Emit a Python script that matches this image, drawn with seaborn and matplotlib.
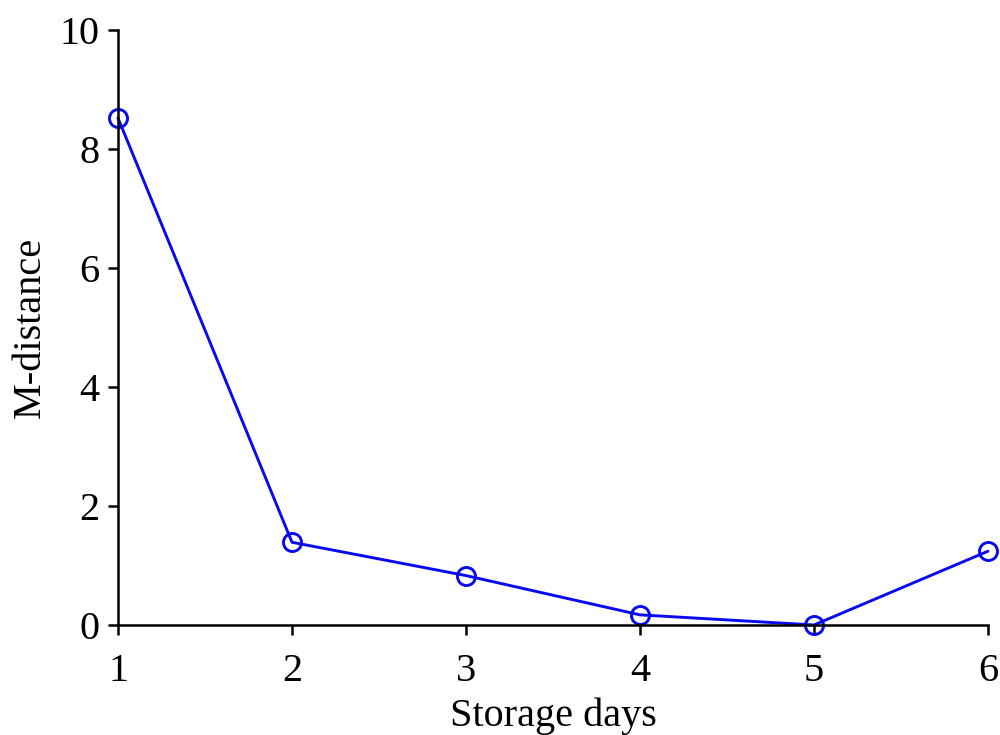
import numpy as np
import pandas as pd
import matplotlib
matplotlib.use("Agg")
import matplotlib.pyplot as plt
import seaborn as sns

days = [1, 2, 3, 4, 5, 6]
m_distance = [8.52, 1.39, 0.83, 0.17, 0.0, 1.24]
yticks = [0, 2, 4, 6, 8, 10]

df = pd.DataFrame({"day": days, "dist": m_distance})

sns.set_style("ticks")
plt.rcParams["font.family"] = ["Liberation Serif", "DejaVu Serif"]
plt.rcParams["text.color"] = "black"
plt.rcParams["axes.labelcolor"] = "black"
plt.rcParams["xtick.color"] = "black"
plt.rcParams["ytick.color"] = "black"

fig = plt.figure(figsize=(10, 7.35), dpi=100)
ax = fig.add_axes([0.118, 0.1497, 0.870, 0.8095])

sns.lineplot(data=df, x="day", y="dist", ax=ax, color="#0a0af0", linewidth=2.1,
             marker="o", markersize=13, markerfacecolor="none",
             markeredgecolor="#0a0af0", markeredgewidth=2.1, clip_on=False)

ax.set_xlim(1, 6)
ax.set_ylim(0, 10)
ax.set_xticks(days)
ax.set_yticks(yticks)
ax.tick_params(labelsize=29, width=1.8, length=7.5, colors="black")
ax.tick_params(axis="y", pad=6)
ax.tick_params(axis="x", pad=12.4)
ax.set_xlabel("Storage days", fontsize=29, labelpad=5.8)
ax.set_ylabel("M-distance", fontsize=29, labelpad=7.5)
for s in ["left", "bottom"]:
    ax.spines[s].set_linewidth(1.8)
    ax.spines[s].set_color("black")
sns.despine(ax=ax)

fig.savefig("out.png", dpi=100)
